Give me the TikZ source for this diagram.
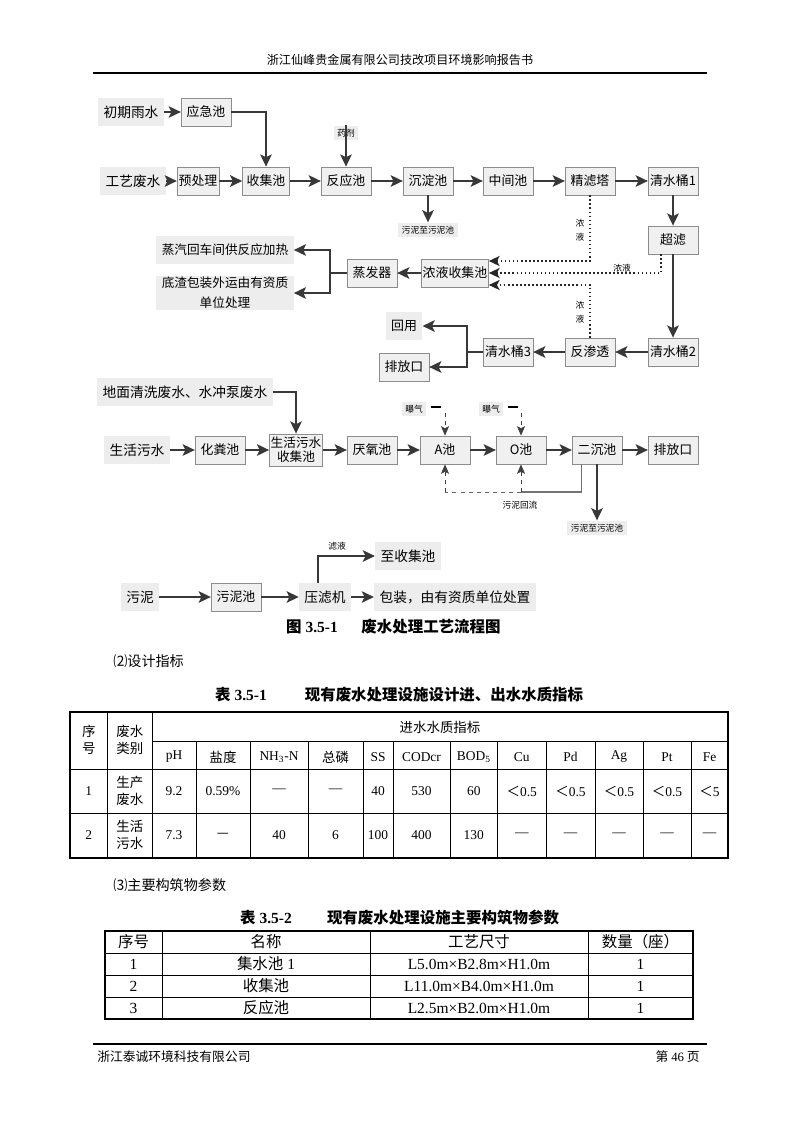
\documentclass[tikz,border=0pt]{standalone}
\usepackage{fontspec}
\setmainfont{Liberation Serif}
\newfontfamily\cjk{Noto Sans CJK SC}
\newfontfamily\tnr{Liberation Serif}
\usetikzlibrary{arrows.meta,calc}

\begin{document}
\begin{tikzpicture}[
  x=0.74375pt, y=-0.74375pt,
  font=\cjk,
  box/.style={draw=black!45, fill=black!6, minimum width=37pt, minimum height=21pt,
              inner sep=1pt, align=center, font=\cjk\fontsize{9.6}{11}\selectfont},
  lbl/.style={fill=black!7, minimum height=21pt, inner xsep=4pt, inner ysep=1pt,
              align=center, font=\cjk\fontsize{10.2}{12}\selectfont},
  slbl/.style={fill=black!7, inner sep=2.5pt, font=\cjk\fontsize{6.5}{8}\selectfont},
  vlbl/.style={inner sep=1pt, align=center, font=\cjk\fontsize{6.5}{10}\selectfont},
  ar/.style={-{Stealth[length=9pt,width=8.5pt,inset=2pt]}, line width=2pt, draw=black!78},
  ln/.style={line width=2pt, draw=black!78},
  dar/.style={-{Stealth[length=8pt,width=7.5pt,inset=2pt]}, line width=1.2pt,
              dash pattern=on 1.2pt off 1.8pt, draw=black!85},
  dsh/.style={-{Stealth[length=7pt,width=6pt,inset=1.5pt]}, dashed, line width=0.6pt, draw=black!75},
  txt/.style={inner sep=0pt, font=\cjk\fontsize{10.5}{12}\selectfont},
  ttl/.style={inner sep=0pt, font=\bfseries\fontsize{11.5}{13}\selectfont},
  cell/.style={inner sep=0pt, align=center, font=\tnr\fontsize{10}{13}\selectfont},
  cellb/.style={inner sep=0pt, align=center, font=\tnr\fontsize{11.5}{13}\selectfont}
]
\useasboundingbox[fill=white] (0,0) rectangle (800,1131);

% --- page header ---------------------------------------------------------
\node[inner sep=0pt, font=\cjk\fontsize{9}{11}\selectfont] (hdr) at (400,60)
     {浙江仙峰贵金属有限公司技改项目环境影响报告书};
\draw[line width=0.8pt] (93,73) -- (707,73);

% --- production wastewater line -----------------------------------------
\node[lbl] (rain) at (131,112) {初期雨水};
\node[box] (emer) at (206,112) {应急池};
\node[lbl] (proc) at (133,181) {工艺废水};
\node[box, minimum width=31pt] (pre) at (198,181) {预处理};
\node[box, minimum width=35pt] (coll) at (266,181) {收集池};
\node[box] (react) at (346,181) {反应池};
\node[box] (settle) at (428,181) {沉淀池};
\node[box] (mid) at (508,181) {中间池};
\node[box] (filt) at (590,181) {精滤塔};
\node[box] (clr1) at (673,181) {清水桶1};
\node[slbl] (agent) at (346,133) {药剂};
\node[slbl] (sl1) at (428,230) {污泥至污泥池};
\node[box] (uf) at (673,240) {超滤};
\node[box] (clr2) at (673,352) {清水桶2};
\node[box] (ro) at (590,352) {反渗透};
\node[box] (clr3) at (508,352) {清水桶3};
\node[lbl, font=\cjk\fontsize{9.6}{11}\selectfont] (reuse) at (404,326) {回用};
\node[box] (out1) at (404,367) {排放口};
\node[box, minimum width=47pt] (conc) at (455,273) {浓液收集池};
\node[box] (evap) at (372,273) {蒸发器};
\node[lbl, font=\cjk\fontsize{9.4}{11}\selectfont] (steam) at (225,250) {蒸汽回车间供反应加热};
\node[lbl, font=\cjk\fontsize{9.4}{15}\selectfont] (resid) at (225,293) {底渣包装外运由有资质\\单位处理};
\node[vlbl] (cl1) at (580,230) {浓\\液};
\node[vlbl] (cl2) at (622,268) {浓液};
\node[vlbl] (cl3) at (580,312) {浓\\液};

\draw[ar] (rain) -- (emer);
\draw[ar] (emer.east) -| (coll.north);
\draw[ar] (proc) -- (pre);
\draw[ar] (pre) -- (coll);
\draw[ar] (coll) -- (react);
\draw[ar] (react) -- (settle);
\draw[ar] (settle) -- (mid);
\draw[ar] (mid) -- (filt);
\draw[ar] (filt) -- (clr1);
\draw[ar] (agent.north) -- (react.north);
\draw[ar] (settle.south) -- (sl1.north);
\draw[ar] (clr1) -- (uf);
\draw[ar] (uf) -- (clr2);
\draw[ar] (clr2) -- (ro);
\draw[ar] (ro) -- (clr3);
\coordinate (b3) at (467,352);
\draw[ln] (clr3.west) -- (b3);
\draw[ar] (b3) |- (reuse.east);
\draw[ar] (b3) |- (out1.east);
\draw[dar] (filt.south) |- ($(conc.east)+(0,-12)$);
\draw[dar] ($(uf.south west)+(13,0)$) |- (conc.east);
\draw[dar] (ro.north) |- ($(conc.east)+(0,12)$);
\draw[ar] (conc) -- (evap);
\coordinate (b2) at (330,273);
\draw[ln] (evap.west) -- (b2);
\draw[ar] (b2) |- (steam.east);
\draw[ar] (b2) |- (resid.east);

% --- domestic sewage line -----------------------------------------------
\node[lbl] (floor) at (185,392) {地面清洗废水、水冲泵废水};
\node[lbl] (dom) at (137,450) {生活污水};
\node[box] (septic) at (220,450) {化粪池};
\node[box, minimum height=24pt, font=\cjk\fontsize{9.4}{10.5}\selectfont] (domc) at (296,450) {生活污水\\收集池};
\node[box] (anae) at (372,450) {厌氧池};
\node[box] (apool) at (445,450) {A池};
\node[box] (opool) at (521,450) {O池};
\node[box] (sec) at (597,450) {二沉池};
\node[box] (out2) at (673,450) {排放口};
\node[slbl] (aer1) at (414,409) {曝气};
\node[slbl] (aer2) at (491,409) {曝气};
\node[slbl, fill=none] (ret) at (520,505) {污泥回流};
\node[slbl] (sl2) at (597,528) {污泥至污泥池};

\draw[ar] (floor.east) -| (domc.north);
\draw[ar] (dom) -- (septic);
\draw[ar] (septic) -- (domc);
\draw[ar] (domc) -- (anae);
\draw[ar] (anae) -- (apool);
\draw[ar] (apool) -- (opool);
\draw[ar] (opool) -- (sec);
\draw[ar] (sec) -- (out2);
\draw[ar] (sec.south) -- (sl2.north);
% aeration
\draw[line width=1.3pt] ($(aer1.east)+(5,-2)$) -- ++(10,0);
\draw[line width=1.3pt] ($(aer2.east)+(5,-2)$) -- ++(10,0);
\coordinate (a1) at (445,413);
\coordinate (a2) at (521,413);
\draw[dsh] (a1) -- (apool.north);
\draw[dsh] (a2) -- (opool.north);
% sludge return
\coordinate (rt) at (582,492);
\coordinate (ra) at (445,492);
\coordinate (rb) at (521,492);
\draw[line width=0.8pt, draw=black!55] ($(sec.south west)+(10,0)$) |- (rb);
\draw[dashed, line width=0.6pt, draw=black!60] (rb) -- (ra);
\draw[dsh] (ra) -- (apool.south);
\draw[dsh] (rb) -- (opool.south);

% --- sludge line ---------------------------------------------------------
\node[lbl] (sludge) at (140,597) {污泥};
\node[box] (sp) at (236,597) {污泥池};
\node[lbl] (press) at (325,597) {压滤机};
\node[lbl] (pack) at (455,597) {包装，由有资质单位处置};
\node[lbl] (tocoll) at (408,556) {至收集池};
\node[vlbl] (filtr) at (337,546) {滤液};

\draw[ar] (sludge) -- (sp);
\draw[ar] (sp) -- (press);
\draw[ar] (press) -- (pack);
\draw[ar] ($(press.north)+(-7,0)$) |- (tocoll.west);

% --- caption and notes --------------------------------------------------
\node[ttl] (cap1) at (312,627) {{\cjk 图} 3.5-1};
\node[ttl, font=\cjk\bfseries\fontsize{11.5}{13}\selectfont] (cap2) at (431,627) {废水处理工艺流程图};
\node[txt, anchor=west] (n2) at (113,661) {⑵设计指标};
\node[ttl] (t1a) at (241,695) {{\cjk 表} 3.5-1};
\node[ttl, font=\cjk\bfseries\fontsize{11.5}{13}\selectfont] (t1b) at (444,695) {现有废水处理设施设计进、出水水质指标};

% --- table 3.5-1 ---------------------------------------------------------
\draw[line width=0.9pt] (70,712) rectangle (728,858);
\draw[line width=0.5pt] (152,741) -- (728,741);
\draw[line width=0.5pt] (70,769) -- (728,769);
\draw[line width=0.5pt] (70,813) -- (728,813);
\foreach \x in {107.5,152}
  \draw[line width=0.5pt] (\x,712) -- (\x,858);
\foreach \x in {196,250,308,363,393,450,497.5,546,595,643,691}
  \draw[line width=0.5pt] (\x,741) -- (\x,858);

\node[cell] (h0) at (88.75,740) {\cjk 序\\\cjk 号};
\node[cell] (h1) at (129.75,740) {\cjk 废水\\\cjk 类别};
\node[cell] (h2) at (440,727) {\cjk 进水水质指标};
\foreach \x/\t [count=\i] in {174/pH, 223/{\cjk 盐度}, 279/{NH\textsubscript{3}-N},
    335.5/{\cjk 总磷}, 378/SS, 421.5/CODcr, 473.75/{BOD\textsubscript{5}},
    521.75/Cu, 570.5/Pd, 619/Ag, 667/Pt, 709.5/Fe}
  \node[cell] (c\i) at (\x,757) {\t};

\node[cell] (r1a) at (88.75,791) {1};
\node[cell] (r1b) at (129.75,791) {\cjk 生产\\\cjk 废水};
\foreach \x/\t [count=\i] in {174/9.2, 223/0.59\%, 279/—, 335.5/—, 378/40,
    421.5/530, 473.75/60, 521.75/{{\cjk ＜}0.5}, 570.5/{{\cjk ＜}0.5},
    619/{{\cjk ＜}0.5}, 667/{{\cjk ＜}0.5}, 709.5/{{\cjk ＜}5}}
  \node[cell] (d\i) at (\x,791) {\t};

\node[cell] (r2a) at (88.75,835) {2};
\node[cell] (r2b) at (129.75,835) {\cjk 生活\\\cjk 污水};
\foreach \x/\t [count=\i] in {174/7.3, 223/{\cjk —}, 279/40, 335.5/6, 378/100,
    421.5/400, 473.75/130, 521.75/—, 570.5/—, 619/—, 667/—, 709.5/—}
  \node[cell] (e\i) at (\x,835) {\t};

% --- table 3.5-2 ---------------------------------------------------------
\node[txt, anchor=west] (n3) at (113,885) {⑶主要构筑物参数};
\node[ttl] (t2a) at (266,918) {{\cjk 表} 3.5-2};
\node[ttl, font=\cjk\bfseries\fontsize{11.5}{13}\selectfont] (t2b) at (443,918) {现有废水处理设施主要构筑物参数};

\draw[line width=0.9pt] (105,931) rectangle (693,1019);
\foreach \y in {953,975,997}
  \draw[line width=0.5pt] (105,\y) -- (693,\y);
\foreach \x in {162,370,588}
  \draw[line width=0.5pt] (\x,931) -- (\x,1019);

\foreach \n/\a/\b/\c [count=\i] in {
    {\cjk 序号}/{\cjk 名称}/{\cjk 工艺尺寸}/{\cjk 数量（座）},
    1/{{\cjk 集水池} 1}/L5.0m×B2.8m×H1.0m/1,
    2/{\cjk 收集池}/L11.0m×B4.0m×H1.0m/1,
    3/{\cjk 反应池}/L2.5m×B2.0m×H1.0m/1}{
  \node[cellb] (s\i a) at (133.5,920+22*\i) {\n};
  \node[cellb] (s\i b) at (266,920+22*\i) {\a};
  \node[cellb] (s\i c) at (479,920+22*\i) {\b};
  \node[cellb] (s\i d) at (640.5,920+22*\i) {\c};
}

% --- page footer ---------------------------------------------------------
\draw[line width=1.3pt] (93,1044) -- (707,1044);
\node[inner sep=0pt, anchor=west, font=\cjk\fontsize{9.5}{11}\selectfont] (ftl) at (97,1057) {浙江泰诚环境科技有限公司};
\node[inner sep=0pt, anchor=east, font=\cjk\fontsize{9.5}{11}\selectfont] (ftr) at (700,1057) {第 {\tnr 46} 页};

\end{tikzpicture}
\end{document}
